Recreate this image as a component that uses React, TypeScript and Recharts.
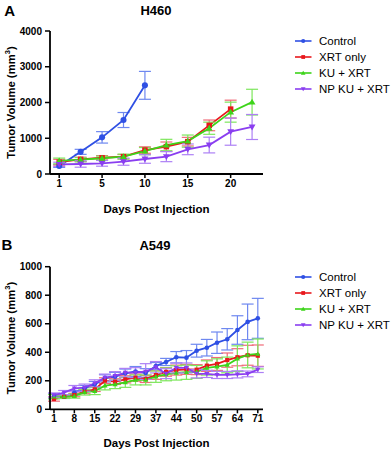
import React from 'react';
import { LineChart, Line, XAxis, YAxis, ErrorBar, Legend, Label } from 'recharts';

const FONT = '"Liberation Sans", Arial, Helvetica, sans-serif';

// ---------- Panel A: H460 ----------
const H460_TICK_INDEX = [0, 2, 4, 6, 8];
const H460_TICK_LABELS = ['1', '5', '10', '15', '20'];
const H460_Y_TICKS = [0, 1000, 2000, 3000, 4000];
const H460_CONTROL = [224, 620, 1025, 1510, 2480];
const H460_CONTROL_ERR = [40, 70, 160, 210, 390];
const H460_XRT = [330, 410, 455, 485, 670, 765, 905, 1360, 1815];
const H460_XRT_ERR = [80, 60, 60, 60, 90, 130, 120, 150, 250];
const H460_KU = [365, 400, 440, 485, 640, 810, 920, 1280, 1730, 2010];
const H460_KU_ERR = [80, 60, 60, 70, 100, 160, 170, 170, 280, 360];
const H460_NP = [270, 280, 298, 345, 420, 485, 690, 810, 1185, 1315];
const H460_NP_ERR = [60, 90, 80, 100, 120, 140, 150, 220, 380, 350];

// ---------- Panel B: A549 ----------
const A549_TICK_INDEX = [0, 2, 4, 6, 8, 10, 12, 14, 16, 18, 20];
const A549_TICK_LABELS = ['1', '8', '15', '22', '29', '37', '44', '50', '57', '64', '71'];
const A549_Y_TICKS = [0, 200, 400, 600, 800, 1000];
const A549_CONTROL = [93, 88, 117, 147, 175, 217, 229, 252, 265, 255, 303, 332, 365, 362, 411, 432, 467, 491, 556, 613, 638];
const A549_CONTROL_ERR = [15, 12, 15, 20, 20, 25, 30, 30, 35, 30, 25, 25, 40, 50, 45, 58, 75, 75, 100, 125, 140];
const A549_XRT = [72, 88, 100, 124, 140, 201, 194, 210, 222, 213, 240, 262, 275, 280, 278, 306, 318, 345, 365, 379, 376];
const A549_XRT_ERR = [15, 10, 12, 15, 15, 20, 20, 25, 25, 25, 30, 30, 35, 35, 35, 40, 45, 50, 60, 70, 75];
const A549_KU = [88, 88, 93, 120, 128, 166, 175, 189, 206, 206, 229, 245, 255, 260, 262, 290, 299, 311, 355, 381, 388];
const A549_KU_ERR = [15, 12, 15, 20, 25, 30, 30, 35, 35, 35, 40, 45, 50, 50, 45, 50, 55, 55, 90, 90, 105];
const A549_NP = [100, 117, 147, 152, 182, 222, 234, 257, 257, 265, 295, 250, 290, 290, 250, 248, 241, 241, 245, 248, 278];
const A549_NP_ERR = [15, 15, 20, 25, 25, 25, 30, 30, 35, 55, 40, 35, 35, 35, 30, 25, 25, 25, 25, 20, 20];

const SERIES_NAMES = ['Control', 'XRT only', 'KU + XRT', 'NP KU + XRT'];
const COLORS = ['#2f50e4', '#e8171c', '#3dd41a', '#8a3ef0'];
const ERR_COLORS = ['#6e88f0', '#f06a78', '#7de65c', '#ad80f5'];
const SHAPES = ['circle', 'square', 'up', 'down'];

const toSeries = (vals: number[], errs: number[]) => vals.map((v, i) => ({ x: i, y: v, e: errs[i] }));

function Marker({ shape, cx, cy, color, s = 1 }: { shape: string; cx: number; cy: number; color: string; s?: number }) {
  if (cx == null || cy == null || isNaN(cx) || isNaN(cy)) return <g />;
  if (shape === 'circle') return <circle cx={cx} cy={cy} r={3.2 * s} fill={color} />;
  if (shape === 'square') return <rect x={cx - 2.9 * s} y={cy - 2.9 * s} width={5.8 * s} height={5.8 * s} fill={color} />;
  const a = 3.6 * s;
  const b = 2.6 * s;
  if (shape === 'up') return <polygon points={`${cx},${cy - a} ${cx + a},${cy + b} ${cx - a},${cy + b}`} fill={color} />;
  return <polygon points={`${cx},${cy + a} ${cx + a},${cy - b} ${cx - a},${cy - b}`} fill={color} />;
}

const renderLegend = () => (
  <div style={{ fontFamily: FONT, fontSize: 11.5, color: '#000' }}>
    {SERIES_NAMES.map((n, i) => (
      <div key={n} style={{ display: 'flex', alignItems: 'center', height: 16 }}>
        <svg width={24} height={16} style={{ display: 'block' }}>
          <line x1={0} x2={16.5} y1={8} y2={8} stroke={COLORS[i]} strokeWidth={1.6} />
          <Marker shape={SHAPES[i]} cx={8.2} cy={8} color={COLORS[i]} s={0.65} />
        </svg>
        <span style={{ whiteSpace: 'nowrap' }}>{n}</span>
      </div>
    ))}
  </div>
);

const yTitle = (props: any) => {
  const vb = props.viewBox || { x: 0, y: 0, width: 50, height: 100 };
  const cx = vb.x + 11;
  const cy = vb.y + vb.height / 2;
  return (
    <text
      x={cx}
      y={cy}
      transform={`rotate(-90 ${cx} ${cy})`}
      textAnchor="middle"
      dominantBaseline="central"
      fontFamily={FONT}
      fontWeight="bold"
      fontSize={11.3}
      fill="#000"
    >
      Tumor Volume (mm
      <tspan dy={-4} fontSize={7.5}>3</tspan>
      <tspan dy={4}>)</tspan>
    </text>
  );
};

const xTitle = (offset: number) => (props: any) => {
  const vb = props.viewBox || { x: 0, y: 0, width: 100, height: 40 };
  return (
    <text
      x={vb.x + vb.width / 2}
      y={vb.y + offset}
      textAnchor="middle"
      dominantBaseline="central"
      fontFamily={FONT}
      fontWeight="bold"
      fontSize={11.5}
      fill="#000"
    >
      Days Post Injection
    </text>
  );
};

const tickStyle = { fontFamily: FONT, fontWeight: 'bold' as const, fontSize: 10, fill: '#000' };

function Panel(props: {
  height: number;
  top: number;
  marginTop: number;
  xHeight: number;
  xDomain: [number, number];
  xTicks: number[];
  xLabels: string[];
  yTicks: number[];
  series: { y: number; e: number; x: number }[][];
  legendTop: number;
  xTitleOffset: number;
  markerScale: number;
  capWidth: number;
}) {
  const { height, marginTop, xHeight, xDomain, xTicks, xLabels, yTicks, series, legendTop, xTitleOffset, markerScale, capWidth } = props;
  return (
    <div style={{ position: 'absolute', left: 0, top: props.top }}>
      <LineChart width={392} height={height} margin={{ top: marginTop, right: 129, bottom: 0, left: 0 }}>
        <XAxis
          dataKey="x"
          type="number"
          domain={xDomain}
          ticks={xTicks}
          tickFormatter={(v: number) => xLabels[xTicks.indexOf(v)] ?? ''}
          interval={0}
          allowDataOverflow
          height={xHeight}
          tick={tickStyle}
          tickSize={4}
          tickMargin={2}
          axisLine={{ stroke: '#000', strokeWidth: 1.8 }}
          tickLine={{ stroke: '#000', strokeWidth: 1.5 }}
          label={<Label content={xTitle(xTitleOffset)} />}
        />
        <YAxis
          type="number"
          domain={[yTicks[0], yTicks[yTicks.length - 1]]}
          ticks={yTicks}
          interval={0}
          width={50}
          tick={tickStyle}
          tickSize={5}
          tickMargin={3}
          axisLine={{ stroke: '#000', strokeWidth: 1.8 }}
          tickLine={{ stroke: '#000', strokeWidth: 1.5 }}
          label={<Label content={yTitle} />}
        />
        <Legend
          layout="vertical"
          align="center"
          verticalAlign="middle"
          content={renderLegend}
          wrapperStyle={{ position: 'absolute', top: legendTop, left: 295, width: 97, height: 64 }}
        />
        {series.map((d, i) => (
          <Line
            key={SERIES_NAMES[i]}
            name={SERIES_NAMES[i]}
            data={d}
            dataKey="y"
            type="linear"
            stroke={COLORS[i]}
            strokeWidth={1.8}
            isAnimationActive={false}
            dot={(p: any) => (
              <Marker key={`d${i}-${p.index}`} shape={SHAPES[i]} cx={p.cx} cy={p.cy} color={COLORS[i]} s={markerScale} />
            )}
            activeDot={false}
          >
            <ErrorBar dataKey="e" direction="y" width={capWidth} stroke={ERR_COLORS[i]} strokeWidth={1.2} isAnimationActive={false} />
          </Line>
        ))}
      </LineChart>
    </div>
  );
}

export default function App() {
  const seriesA = [
    toSeries(H460_CONTROL, H460_CONTROL_ERR),
    toSeries(H460_XRT, H460_XRT_ERR),
    toSeries(H460_KU, H460_KU_ERR),
    toSeries(H460_NP, H460_NP_ERR),
  ];
  const seriesB = [
    toSeries(A549_CONTROL, A549_CONTROL_ERR),
    toSeries(A549_XRT, A549_XRT_ERR),
    toSeries(A549_KU, A549_KU_ERR),
    toSeries(A549_NP, A549_NP_ERR),
  ];
  return (
    <div style={{ position: 'absolute', left: 0, top: 0, width: 392, height: 452, background: '#fff', overflow: 'hidden' }}>
      <Panel
        top={0}
        height={225}
        marginTop={31}
        xHeight={51}
        xDomain={[-0.43, 9.51]}
        xTicks={H460_TICK_INDEX}
        xLabels={H460_TICK_LABELS}
        yTicks={H460_Y_TICKS}
        series={seriesA}
        legendTop={33}
        xTitleOffset={35.3}
        markerScale={0.95}
        capWidth={6}
      />
      <Panel
        top={225}
        height={227}
        marginTop={41.7}
        xHeight={42.7}
        xDomain={[-0.39, 20.51]}
        xTicks={A549_TICK_INDEX}
        xLabels={A549_TICK_LABELS}
        yTicks={A549_Y_TICKS}
        series={seriesB}
        legendTop={43.7}
        xTitleOffset={34}
        markerScale={0.72}
        capWidth={6}
      />
      <svg width={392} height={452} style={{ position: 'absolute', left: 0, top: 0, pointerEvents: 'none' }}>
        <g fontFamily={FONT} fontWeight="bold" fill="#000" dominantBaseline="central" textAnchor="middle">
          <text x={9.7} y={10.5} fontSize={15}>A</text>
          <text x={156} y={10.5} fontSize={13}>H460</text>
          <text x={7} y={244} fontSize={15}>B</text>
          <text x={155} y={245.3} fontSize={13}>A549</text>
        </g>
      </svg>
    </div>
  );
}
